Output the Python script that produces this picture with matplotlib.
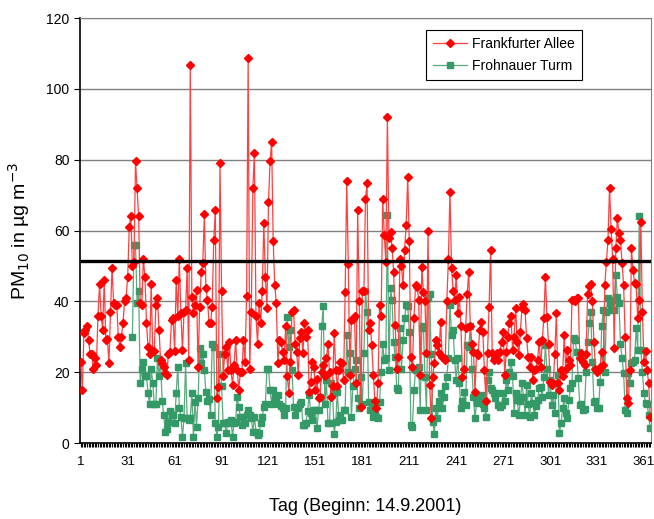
import numpy as np
import matplotlib.pyplot as plt

# Tageswerte PM10 (µg/m³), Tag 1 = 14.9.2001
frankfurter_allee = [
    # Tag 1-46
    23, 15, 31, 32, 33, 29, 25, 25, 21, 24, 22, 36, 45, 36, 32, 46, 29, 29.5, 22.5, 37,
    49.5, 39.5, 39, 39, 30, 27, 30, 34, 40, 41, 47, 61, 64, 50, 51, 79.5, 72, 64, 39.5, 39,
    52, 47, 34, 27, 25, 45,
    # Tag 47-91
    26, 26, 39, 41, 32, 23.4, 22.5, 21.6, 19.7, 19.2, 25, 25.8, 34.7, 35.2, 26, 46, 36, 52, 36.6, 26.3,
    37, 37.6, 49.3, 23.4, 106.8, 41.3, 36.6, 39, 43.2, 21.6, 38.5, 48.4, 50.8, 64.7, 43.7, 40.4, 33.8, 33.8, 38.5, 57.2,
    65.8, 12.6, 15.9, 79, 43,
    # Tag 92-136
    19, 25, 27, 20.6, 28.6, 20.6, 16.4, 22, 29, 20.6, 15, 20, 20, 29, 23, 41.5, 108.7, 21, 37, 72,
    82, 36, 28, 39.5, 34, 43, 62, 47, 38, 68, 79.5, 85, 57, 44.6, 39.5, 22.7, 29, 28.6, 25.8, 23.4,
    33, 19, 14, 23, 37,
    # Tag 137-180
    37.6, 28, 25.8, 19.2, 29.6, 31.4, 25.3, 33.8, 30, 32, 14.5, 17.3, 23, 21.6, 15, 18, 12.6, 13, 20, 22,
    19, 24, 28, 20, 13, 16, 31, 20.6, 16, 20.6, 23, 22.5, 17.8, 42.6, 74, 50.6, 19.2, 34.7, 35, 36,
    16.9, 65.8, 40, 10.3,
    # Tag 181-225
    43, 43, 69, 73.4, 31.9, 33.8, 27.7, 19.2, 12, 9.8, 16.9, 39, 36, 69, 58.8, 51.2, 92, 57.9, 59.7, 55,
    48.4, 33.3, 21, 24.4, 52, 50, 44.6, 54.6, 61.6, 75, 56.9, 24.4, 21.6, 35.2, 44.6, 44, 40.4, 19.2, 49.8, 42.7,
    40, 25.3, 60, 16.4, 7,
    # Tag 226-270
    18.7, 22.5, 29, 27.7, 25.3, 34.3, 24.4, 24, 23.4, 40, 52, 71, 49.3, 43, 40.4, 47.5, 36.6, 41.3, 33, 18.7,
    21, 32.4, 42, 48.4, 33, 28, 25.8, 14.5, 25.3, 24.9, 32, 34.3, 31.4, 20.6, 12, 25.3, 38.5, 54.5, 25.3, 23.4,
    24, 25.3, 23.4, 25.8, 28.6,
    # Tag 271-315
    31.4, 19.2, 25.8, 30, 34, 36, 26.3, 30, 38, 28.6, 24.9, 31.4, 38, 39.3, 37.6, 29.6, 24.4, 21.6, 24.4, 17.8,
    20.6, 21, 23.4, 28.6, 21.6, 29, 35.2, 47, 35.7, 28, 17.3, 16.4, 17, 25, 36.6, 16.9, 15, 20.6, 19, 30.5,
    21, 26.3, 23.4, 22, 40.4,
    # Tag 316-365
    40.4, 40, 41, 41, 24, 25.3, 23, 22, 25, 42, 44.4, 44.9, 40, 28.6, 21, 20, 20.5, 21.6, 25.8, 22,
    44.6, 51.2, 57.3, 72, 60.4, 52, 26.7, 55, 63.5, 59.2, 57.3, 50.8, 44.6, 30, 12.6, 11.2, 20.6, 55, 48.9, 45.2,
    45, 35.2, 40.4, 62.5, 37, 23, 26, 20.6, 16.9, 7.4,
]

frohnauer_turm = [None] * 33 + [
    # Tag 34-46
    30, 56, 56, 39.5, 43, 17, 21, 23, 19, 19, 14, 11, 21,
    # Tag 47-90
    17, 11, 11, 24, 19, 23, 12, 8, 3, 4, 6, 9, 8, 8, 5.6, 14, 21.6, 10, 7.4, 1.8,
    7, 22.5, 7, 6.5, 7, 14, 1.8, 11.7, 4.6, 12.6, 26.7, 22.5, 25, 20.6, 14.5, 12, 12.5, 8, 28, 27,
    5.6, 1.8, 4.6, 25,
    # Tag 91-136
    16, 5.6, 5.6, 2.7, 6, 5.6, 6.5, 1.8, 5.6, 6, 13, 10.3, 7.4, 5, 7.4, 5.6, 8, 9.3, 8, 7,
    3.2, 7.4, 3.2, 2.3, 2.7, 5.6, 7.4, 10.3, 11, 21, 21, 15, 11, 15, 13, 12, 13.5, 11, 10.5, 10,
    7.9, 9.8, 35.7, 27.2, 31.9, 20.6,
    # Tag 137-180
    10.3, 7.9, 9.8, 10.3, 11, 11.7, 5, 5, 5.6, 9, 13.6, 8.4, 6.5, 9.3, 9.3, 4.1, 9.3, 13, 33, 38.7,
    11, 17.8, 5.6, 5.6, 16.9, 14, 2.5, 6, 14.5, 6.5, 7.9, 6.5, 9.3, 9.3, 30.5, 20, 25.3, 7.4, 16, 21,
    23.4, 12.6, 9.8, 18.7,
    # Tag 181-225
    11, 25.3, 43, 37, 11.7, 9.3, 9.8, 7.4, 7.9, 7.4, 7, 11.7, 20, 28, 23.4, 23.9, 64.4, 20.6, 43.7, 40.4,
    28.6, 24.4, 15.4, 15, 32.4, 21, 29, 35.2, 39, 38.7, 31.4, 5, 4.6, 15, 20.6, 21, 21.6, 9.3, 32.4, 33,
    18.7, 9.3, 41, 42, 25,
    # Tag 226-270
    6, 2.5, 9.8, 7, 12, 14, 10, 13, 16, 18.7, 24, 39, 30.5, 32, 23.4, 17.8, 23.9, 16.9, 9.8, 12,
    14.5, 10.7, 27.7, 27, 33, 21, 13, 7, 11.2, 12.6, 11.7, 13.6, 11, 9.8, 7.4, 17.8, 20, 15.4, 15, 14,
    12.6, 14, 10.7, 10.3, 10.7,
    # Tag 271-315
    14, 12, 17.8, 15, 20, 23, 19, 8.4, 14, 12.1, 7.9, 12, 16.9, 13.1, 8, 16.4, 11, 7.4, 14, 11.2,
    7.9, 10.5, 12.1, 15.4, 15.9, 13, 18.7, 27.7, 21, 13.6, 17.8, 10.7, 13.6, 8.4, 16.9, 19.2, 2.7, 5.6, 9.8, 12.6,
    8.4, 7, 12.1, 15.4, 16.9,
    # Tag 316-365
    29.6, 29, 25.8, 18.3, 10.7, 11, 9.3, 9.5, 20, 28.6, 33.8, 37, 23, 11.7, 12, 9.8, 10, 17.3, 33, 37.6,
    20, 37, 41, 39.5, 37.6, 40.4, 37.6, 47.5, 41.3, 39.5, 28, 24, 19.7, 9.3, 8.4, 19.7, 16.9, 22.5, 23, 23.4,
    32.4, 26.3, 64.2, 26.3, 20, 14, 11.2, 11, 8, 4.1,
]

grenzwert = 51.5
tick_tage = [1, 31, 61, 91, 121, 151, 181, 211, 241, 271, 301, 331, 361]

plt.rcParams['font.family'] = ['Liberation Sans', 'DejaVu Sans']

tage = np.arange(1, len(frankfurter_allee) + 1)
fa = np.array(frankfurter_allee, dtype=float)
ft = np.array([np.nan if v is None else v for v in frohnauer_turm], dtype=float)

fig = plt.figure(figsize=(6.54, 5.19), dpi=100)
ax = fig.add_axes([0.1223, 0.1464, 0.8731, 0.8189])

for y in range(20, 121, 20):
    ax.axhline(y, color='#808080', lw=1.0, zorder=0)

ax.plot(tage, fa, color='#ff4040', lw=0.9, marker='D', markersize=3.6,
        markerfacecolor='red', markeredgecolor='red', label='Frankfurter Allee', zorder=3)
ax.plot(tage, ft, color='#5aaa7e', lw=0.9, marker='s', markersize=3.9,
        markerfacecolor='#339966', markeredgecolor='#339966', label='Frohnauer Turm', zorder=2)

ax.axhline(grenzwert, color='black', lw=2.4, zorder=4)

ax.set_xlim(0.5, len(tage) + 0.5)
ax.set_ylim(0, 120)
ax.set_yticks(range(0, 121, 20))
ax.set_xticks(tick_tage)
ax.set_xticks(tage, minor=True)
ax.tick_params(axis='x', which='both', direction='out', length=3, width=0.8, labelsize=9.5, pad=6)
ax.tick_params(axis='y', direction='out', length=4, width=0.8, labelsize=10)

for side in ['top', 'right']:
    ax.spines[side].set_color('#808080')
for side in ['left', 'bottom']:
    ax.spines[side].set_color('black')
    ax.spines[side].set_linewidth(1.2)

ax.set_ylabel('PM$_{10}$ in µg m$^{-3}$', fontsize=14, labelpad=10)
ax.set_xlabel('Tag (Beginn: 14.9.2001)', fontsize=13, labelpad=22)

leg = ax.legend(loc='upper right', bbox_to_anchor=(0.879, 0.972), borderaxespad=0,
                fontsize=10, frameon=True, fancybox=False, edgecolor='black', framealpha=1,
                borderpad=0.5, handlelength=2.4, handletextpad=0.4, labelspacing=0.6)
leg.get_frame().set_linewidth(0.8)

fig.savefig('out.png', dpi=100)
